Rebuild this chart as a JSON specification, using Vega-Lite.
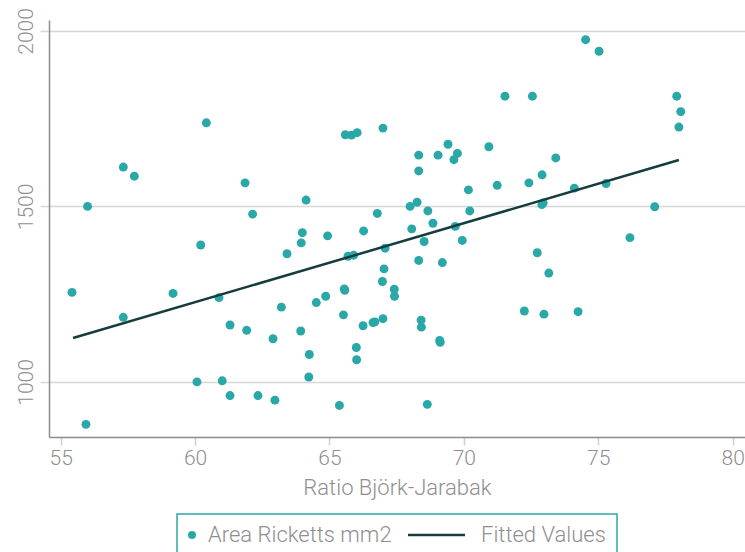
{
  "$schema": "https://vega.github.io/schema/vega-lite/v6.json",
  "width": 696,
  "height": 417,
  "autosize": {"type": "none"},
  "padding": {"left": 49, "top": 20, "right": 0, "bottom": 115},
  "background": "white",
  "config": {
    "view": {"stroke": null},
    "font": "Roboto",
    "axis": {"labelFont": "Roboto", "labelFontWeight": 300, "labelColor": "#8f8f8f", "labelFontSize": 21, "titleFont": "Roboto", "titleFontWeight": 300, "titleColor": "#8f8f8f", "titleFontSize": 22, "domainColor": "#8c8c8c", "domainWidth": 1.5},
    "legend": {"labelFont": "Roboto", "labelFontWeight": 300, "labelColor": "#8f8f8f", "labelFontSize": 22, "labelLimit": 0, "layout": {"bottom": {"anchor": "middle"}}}
  },
  "datasets": {
    "pts": [
      {"ratio": 56.0, "area": 1500, "series": "Area Ricketts mm2"},
      {"ratio": 57.33, "area": 1612, "series": "Area Ricketts mm2"},
      {"ratio": 57.74, "area": 1586, "series": "Area Ricketts mm2"},
      {"ratio": 60.42, "area": 1738, "series": "Area Ricketts mm2"},
      {"ratio": 61.86, "area": 1567, "series": "Area Ricketts mm2"},
      {"ratio": 62.14, "area": 1478, "series": "Area Ricketts mm2"},
      {"ratio": 60.21, "area": 1390, "series": "Area Ricketts mm2"},
      {"ratio": 63.42, "area": 1365, "series": "Area Ricketts mm2"},
      {"ratio": 55.42, "area": 1255, "series": "Area Ricketts mm2"},
      {"ratio": 55.94, "area": 879, "series": "Area Ricketts mm2"},
      {"ratio": 57.33, "area": 1184, "series": "Area Ricketts mm2"},
      {"ratio": 59.18, "area": 1252, "series": "Area Ricketts mm2"},
      {"ratio": 60.89, "area": 1240, "series": "Area Ricketts mm2"},
      {"ratio": 61.3, "area": 1162, "series": "Area Ricketts mm2"},
      {"ratio": 61.92, "area": 1147, "series": "Area Ricketts mm2"},
      {"ratio": 62.9, "area": 1123, "series": "Area Ricketts mm2"},
      {"ratio": 63.21, "area": 1213, "series": "Area Ricketts mm2"},
      {"ratio": 60.07, "area": 1000, "series": "Area Ricketts mm2"},
      {"ratio": 61.01, "area": 1003, "series": "Area Ricketts mm2"},
      {"ratio": 61.3, "area": 961, "series": "Area Ricketts mm2"},
      {"ratio": 62.34, "area": 961, "series": "Area Ricketts mm2"},
      {"ratio": 62.97, "area": 948, "series": "Area Ricketts mm2"},
      {"ratio": 65.59, "area": 1704, "series": "Area Ricketts mm2"},
      {"ratio": 65.82, "area": 1703, "series": "Area Ricketts mm2"},
      {"ratio": 66.03, "area": 1710, "series": "Area Ricketts mm2"},
      {"ratio": 66.99, "area": 1723, "series": "Area Ricketts mm2"},
      {"ratio": 68.32, "area": 1646, "series": "Area Ricketts mm2"},
      {"ratio": 69.04, "area": 1646, "series": "Area Ricketts mm2"},
      {"ratio": 69.41, "area": 1677, "series": "Area Ricketts mm2"},
      {"ratio": 69.76, "area": 1651, "series": "Area Ricketts mm2"},
      {"ratio": 69.63, "area": 1633, "series": "Area Ricketts mm2"},
      {"ratio": 70.93, "area": 1670, "series": "Area Ricketts mm2"},
      {"ratio": 68.32, "area": 1601, "series": "Area Ricketts mm2"},
      {"ratio": 70.17, "area": 1547, "series": "Area Ricketts mm2"},
      {"ratio": 71.24, "area": 1560, "series": "Area Ricketts mm2"},
      {"ratio": 64.13, "area": 1518, "series": "Area Ricketts mm2"},
      {"ratio": 68.0, "area": 1500, "series": "Area Ricketts mm2"},
      {"ratio": 68.26, "area": 1512, "series": "Area Ricketts mm2"},
      {"ratio": 68.66, "area": 1487, "series": "Area Ricketts mm2"},
      {"ratio": 70.22, "area": 1487, "series": "Area Ricketts mm2"},
      {"ratio": 66.78, "area": 1480, "series": "Area Ricketts mm2"},
      {"ratio": 68.85, "area": 1452, "series": "Area Ricketts mm2"},
      {"ratio": 69.68, "area": 1443, "series": "Area Ricketts mm2"},
      {"ratio": 68.06, "area": 1436, "series": "Area Ricketts mm2"},
      {"ratio": 66.27, "area": 1430, "series": "Area Ricketts mm2"},
      {"ratio": 63.99, "area": 1425, "series": "Area Ricketts mm2"},
      {"ratio": 64.93, "area": 1416, "series": "Area Ricketts mm2"},
      {"ratio": 63.95, "area": 1396, "series": "Area Ricketts mm2"},
      {"ratio": 68.52, "area": 1400, "series": "Area Ricketts mm2"},
      {"ratio": 69.94, "area": 1403, "series": "Area Ricketts mm2"},
      {"ratio": 67.07, "area": 1381, "series": "Area Ricketts mm2"},
      {"ratio": 65.69, "area": 1358, "series": "Area Ricketts mm2"},
      {"ratio": 65.9, "area": 1361, "series": "Area Ricketts mm2"},
      {"ratio": 68.32, "area": 1346, "series": "Area Ricketts mm2"},
      {"ratio": 69.2, "area": 1340, "series": "Area Ricketts mm2"},
      {"ratio": 67.03, "area": 1322, "series": "Area Ricketts mm2"},
      {"ratio": 66.97, "area": 1286, "series": "Area Ricketts mm2"},
      {"ratio": 67.41, "area": 1264, "series": "Area Ricketts mm2"},
      {"ratio": 67.42, "area": 1244, "series": "Area Ricketts mm2"},
      {"ratio": 65.55, "area": 1265, "series": "Area Ricketts mm2"},
      {"ratio": 65.57, "area": 1261, "series": "Area Ricketts mm2"},
      {"ratio": 64.86, "area": 1244, "series": "Area Ricketts mm2"},
      {"ratio": 64.51, "area": 1226, "series": "Area Ricketts mm2"},
      {"ratio": 65.52, "area": 1191, "series": "Area Ricketts mm2"},
      {"ratio": 66.25, "area": 1160, "series": "Area Ricketts mm2"},
      {"ratio": 66.62, "area": 1169, "series": "Area Ricketts mm2"},
      {"ratio": 66.69, "area": 1171, "series": "Area Ricketts mm2"},
      {"ratio": 66.99, "area": 1180, "series": "Area Ricketts mm2"},
      {"ratio": 68.41, "area": 1176, "series": "Area Ricketts mm2"},
      {"ratio": 68.42, "area": 1156, "series": "Area Ricketts mm2"},
      {"ratio": 69.1, "area": 1118, "series": "Area Ricketts mm2"},
      {"ratio": 69.12, "area": 1113, "series": "Area Ricketts mm2"},
      {"ratio": 63.93, "area": 1145, "series": "Area Ricketts mm2"},
      {"ratio": 64.25, "area": 1078, "series": "Area Ricketts mm2"},
      {"ratio": 66.0, "area": 1098, "series": "Area Ricketts mm2"},
      {"ratio": 66.01, "area": 1063, "series": "Area Ricketts mm2"},
      {"ratio": 64.23, "area": 1014, "series": "Area Ricketts mm2"},
      {"ratio": 65.37, "area": 933, "series": "Area Ricketts mm2"},
      {"ratio": 68.64, "area": 936, "series": "Area Ricketts mm2"},
      {"ratio": 72.25, "area": 1202, "series": "Area Ricketts mm2"},
      {"ratio": 72.98, "area": 1193, "series": "Area Ricketts mm2"},
      {"ratio": 74.25, "area": 1200, "series": "Area Ricketts mm2"},
      {"ratio": 72.73, "area": 1368, "series": "Area Ricketts mm2"},
      {"ratio": 73.16, "area": 1310, "series": "Area Ricketts mm2"},
      {"ratio": 76.18, "area": 1411, "series": "Area Ricketts mm2"},
      {"ratio": 74.53, "area": 1975, "series": "Area Ricketts mm2"},
      {"ratio": 75.03, "area": 1942, "series": "Area Ricketts mm2"},
      {"ratio": 72.55, "area": 1814, "series": "Area Ricketts mm2"},
      {"ratio": 71.53, "area": 1814, "series": "Area Ricketts mm2"},
      {"ratio": 77.92, "area": 1814, "series": "Area Ricketts mm2"},
      {"ratio": 78.07, "area": 1770, "series": "Area Ricketts mm2"},
      {"ratio": 78.0, "area": 1726, "series": "Area Ricketts mm2"},
      {"ratio": 73.42, "area": 1638, "series": "Area Ricketts mm2"},
      {"ratio": 72.91, "area": 1590, "series": "Area Ricketts mm2"},
      {"ratio": 72.42, "area": 1567, "series": "Area Ricketts mm2"},
      {"ratio": 74.11, "area": 1552, "series": "Area Ricketts mm2"},
      {"ratio": 75.29, "area": 1565, "series": "Area Ricketts mm2"},
      {"ratio": 72.9, "area": 1505, "series": "Area Ricketts mm2"},
      {"ratio": 72.95, "area": 1510, "series": "Area Ricketts mm2"},
      {"ratio": 77.1, "area": 1499, "series": "Area Ricketts mm2"}
    ],
    "fit": [
      {"ratio": 55.46, "area": 1125, "series": "Fitted Values"},
      {"ratio": 78.0, "area": 1632, "series": "Fitted Values"}
    ]
  },
  "encoding": {
    "x": {
      "field": "ratio", "type": "quantitative",
      "scale": {"domain": [54.565, 80.46], "nice": false, "zero": false},
      "axis": {"values": [55, 60, 65, 70, 75, 80], "grid": false, "title": "Ratio Björk-Jarabak", "tickSize": 8, "tickColor": "#cfcfcf", "tickWidth": 1.5, "labelPadding": 2, "titlePadding": 9}
    },
    "y": {
      "field": "area", "type": "quantitative",
      "scale": {"domain": [843, 2031], "nice": false, "zero": false},
      "axis": {"values": [1000, 1500, 2000], "format": "d", "grid": true, "gridColor": "#d6d6d6", "gridWidth": 1.5, "title": null, "tickSize": 9, "tickColor": "#d6d6d6", "tickWidth": 1.5, "labelAngle": -90, "labelAlign": "center", "labelBaseline": "alphabetic", "labelPadding": 8}
    },
    "color": {
      "field": "series", "type": "nominal",
      "scale": {"domain": ["Area Ricketts mm2", "Fitted Values"], "range": ["#2aa8a8", "#163d3d"]},
      "legend": {
        "orient": "bottom",
        "direction": "horizontal",
        "title": null,
        "strokeColor": "#2aa8a8",
        "padding": 11,
        "offset": 16,
        "symbolSize": 64,
        "clipHeight": 20,
        "columnPadding": 16,
        "labelLimit": 0,
        "encode": {
          "legend": {"update": {"strokeWidth": {"value": 1.5}}},
          "symbols": {"update": {
            "shape": {"signal": "datum.value === 'Fitted Values' ? 'stroke' : 'circle'"},
            "size": {"signal": "datum.value === 'Fitted Values' ? 3249 : 64"},
            "x": {"signal": "datum.value === 'Fitted Values' ? 28.5 : 4"},
            "fill": {"signal": "datum.value === 'Fitted Values' ? 'transparent' : '#2aa8a8'"},
            "stroke": {"signal": "datum.value === 'Fitted Values' ? '#163d3d' : 'transparent'"},
            "strokeWidth": {"signal": "datum.value === 'Fitted Values' ? 2.5 : 0"},
            "opacity": {"value": 1}
          }},
          "labels": {"update": {
            "x": {"signal": "datum.value === 'Fitted Values' ? 73 : 20"}
          }}
        }
      }
    }
  },
  "layer": [
    {"data": {"name": "pts"}, "mark": {"type": "point", "filled": true, "size": 80, "opacity": 1}},
    {"data": {"name": "fit"}, "mark": {"type": "line", "strokeWidth": 2.5}}
  ]
}
